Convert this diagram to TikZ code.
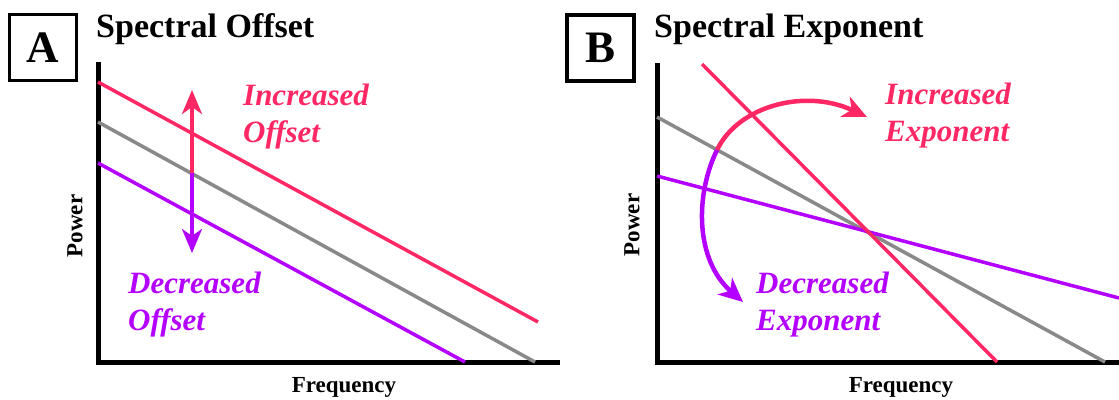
\documentclass[tikz,border=0pt]{standalone}
\usepackage{fontspec}
\setmainfont{Liberation Serif}
\usetikzlibrary{arrows.meta}
\definecolor{hotpink}{RGB}{255,40,100}
\definecolor{violet2}{RGB}{180,0,255}
\definecolor{midgray}{RGB}{137,137,137}
\tikzset{
  axis/.style={line width=5pt, black, line join=miter},
  curve/.style={line width=3.5pt},
  panelbox/.style={draw, line width=3.5pt, minimum width=67pt, minimum height=66pt, inner sep=0pt, font=\fontsize{45}{45}\selectfont\bfseries},
  paneltitle/.style={anchor=base west, inner sep=0pt, font=\fontsize{34}{34}\selectfont\bfseries},
  axlabel/.style={inner sep=0pt, font=\fontsize{23}{23}\selectfont\bfseries},
  effect/.style={anchor=base west, inner sep=0pt, align=left, font=\fontsize{31}{37}\selectfont\bfseries\itshape},
  tip/.style={-{Stealth[length=24pt,width=20pt,inset=7pt]}},
  bigarrow/.style={line width=4.5pt, -{Stealth[length=24pt,width=22pt,inset=7pt]}}
}
\begin{document}
\begin{tikzpicture}[x=1pt,y=-1pt]
\useasboundingbox (0,0) rectangle (1119,399);

% ---------- Panel A ----------
\node[panelbox] (boxA) at (43,47.5) {A};
\node[paneltitle] (titleA) at (96,37) {Spectral Offset};

\coordinate (A0) at (98,62);
\coordinate (Aorig) at (98,362);
\coordinate (Aend) at (560,362);
\draw[axis] (A0) -- (Aorig) -- (Aend);

\coordinate (Ar1) at (98,82);   \coordinate (Ar2) at (538,322);
\coordinate (Ag1) at (98,122);  \coordinate (Ag2) at (535,362);
\coordinate (Ap1) at (98,163);  \coordinate (Ap2) at (465,362);
\draw[curve, hotpink] (Ar1) -- (Ar2);
\draw[curve, midgray] (Ag1) -- (Ag2);
\draw[curve, violet2] (Ap1) -- (Ap2);

\coordinate (Amid) at (192,173);
\coordinate (Aup) at (192,90);
\coordinate (Adown) at (192,253);
\draw[curve, hotpink, tip] (Amid) -- (Aup);
\draw[curve, violet2, tip] (Amid) -- (Adown);

% anchor = baseline of the last line
\node[effect, text=hotpink] (incA) at (243,142) {Increased\\Offset};
\node[effect, text=violet2] (decA) at (128,330) {Decreased\\Offset};

\node[axlabel, anchor=base] (freqA) at (344,392) {Frequency};
\node[axlabel, rotate=90] (powA) at (75,226) {Power};

% ---------- Panel B ----------
\node[panelbox] (boxB) at (600.5,48) {B};
\node[paneltitle] (titleB) at (654,37) {Spectral Exponent};

\coordinate (B0) at (657,63);
\coordinate (Borig) at (657,362);
\coordinate (Bend) at (1119,362);
\draw[axis] (B0) -- (Borig) -- (Bend);

\coordinate (Bg1) at (657,117);  \coordinate (Bg2) at (1105,362);
\coordinate (Br1) at (702,64);   \coordinate (Br2) at (997,362);
\coordinate (Bp1) at (657,176);  \coordinate (Bp2) at (1119,298);
\draw[curve, midgray] (Bg1) -- (Bg2);
\draw[curve, violet2] (Bp1) -- (Bp2);
\draw[curve, hotpink] (Br1) -- (Br2);

\coordinate (Bsplit) at (717,150);
\coordinate (Bincend) at (867,117);
\coordinate (Bdecend) at (743,302);
\draw[bigarrow, hotpink] (Bsplit) .. controls (738,106) and (805,88) .. (Bincend);
\draw[bigarrow, violet2] (Bsplit) .. controls (695,195) and (695,260) .. (Bdecend);

\node[effect, text=hotpink] (incB) at (885,141) {Increased\\Exponent};
\node[effect, text=violet2] (decB) at (756,330) {Decreased\\Exponent};

\node[axlabel, anchor=base] (freqB) at (901,392) {Frequency};
\node[axlabel, rotate=90] (powB) at (632,225) {Power};
\end{tikzpicture}
\end{document}
